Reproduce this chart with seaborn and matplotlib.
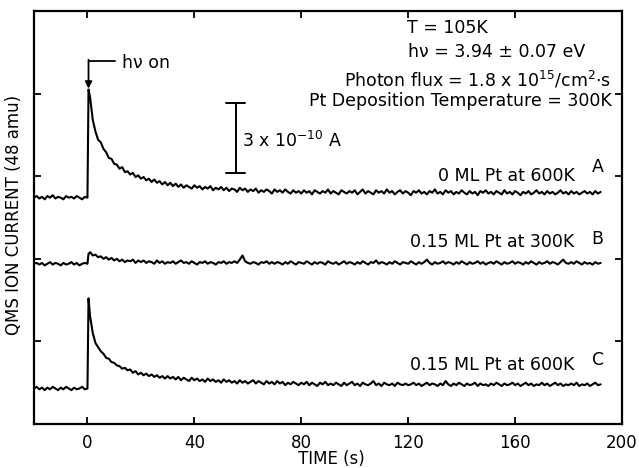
import matplotlib
matplotlib.use("Agg")
import matplotlib.pyplot as plt
import seaborn as sns
import pandas as pd

# ---------------- data ----------------
# sample times: before illumination (1 s steps), the jump just after t=0, then 1 s steps
t_pre = list(range(-20, 1))
t_peak = [0.4]
t_tail = list(range(1, 193))
time = t_pre + t_peak + t_tail

# trace A : 0 ML Pt at 600K
A_pre = [2.74, 2.76, 2.73, 2.75, 2.72, 2.76, 2.74, 2.77, 2.73, 2.75,
         2.74, 2.72, 2.76, 2.74, 2.75, 2.73, 2.76, 2.74, 2.72, 2.75,
         2.74]
A_peak = [4.05]
A_tail = [3.95, 3.68, 3.54, 3.44, 3.41, 3.33, 3.29, 3.22, 3.21, 3.15,
          3.14, 3.09, 3.11, 3.05, 3.06, 3.02, 3.04, 2.99, 3.01, 2.97,
          2.99, 2.95, 2.97, 2.93, 2.96, 2.92, 2.94, 2.90, 2.93, 2.89,
          2.92, 2.88, 2.91, 2.87, 2.90, 2.86, 2.89, 2.87, 2.85, 2.89,
          2.86, 2.88, 2.84, 2.87, 2.85, 2.88, 2.83, 2.86, 2.84, 2.87,
          2.83, 2.86, 2.82, 2.85, 2.84, 2.81, 2.86, 2.83, 2.85, 2.81,
          2.84, 2.82, 2.85, 2.80, 2.83, 2.81, 2.84, 2.82, 2.79, 2.84,
          2.81, 2.83, 2.80, 2.84, 2.81, 2.79, 2.83, 2.80, 2.82, 2.79,
          2.83, 2.80, 2.82, 2.78, 2.83, 2.81, 2.79, 2.82, 2.80, 2.84,
          2.79, 2.82, 2.80, 2.78, 2.83, 2.81, 2.79, 2.82, 2.80, 2.83,
          2.78, 2.81, 2.84, 2.79, 2.82, 2.80, 2.78, 2.83, 2.80, 2.82,
          2.79, 2.84, 2.80, 2.82, 2.78, 2.81, 2.83, 2.79, 2.82, 2.80,
          2.77, 2.82, 2.80, 2.83, 2.79, 2.81, 2.78, 2.82, 2.80, 2.84,
          2.79, 2.81, 2.78, 2.83, 2.80, 2.82, 2.78, 2.81, 2.79, 2.83,
          2.80, 2.78, 2.82, 2.79, 2.81, 2.77, 2.82, 2.80, 2.83, 2.79,
          2.81, 2.78, 2.82, 2.80, 2.78, 2.83, 2.79, 2.81, 2.78, 2.82,
          2.80, 2.77, 2.81, 2.79, 2.82, 2.78, 2.80, 2.83, 2.79, 2.81,
          2.78, 2.82, 2.79, 2.81, 2.78, 2.80, 2.83, 2.79, 2.81, 2.78,
          2.82, 2.79, 2.81, 2.78, 2.80, 2.82, 2.79, 2.81, 2.78, 2.82,
          2.79, 2.81]
A_vals = A_pre + A_peak + A_tail

# trace B : 0.15 ML Pt at 300K
B_pre = [1.94, 1.95, 1.93, 1.95, 1.92, 1.94, 1.96, 1.93, 1.95, 1.94,
         1.92, 1.95, 1.93, 1.94, 1.96, 1.93, 1.95, 1.92, 1.94, 1.95,
         1.94]
B_peak = [2.06]
B_tail = [2.08, 2.04, 2.05, 2.02, 2.03, 2.00, 2.02, 1.99, 2.01, 1.98,
          2.00, 1.97, 1.99, 1.96, 1.98, 1.97, 1.99, 1.95, 1.98, 1.96,
          1.98, 1.95, 1.97, 1.96, 1.94, 1.98, 1.95, 1.97, 1.94, 1.96,
          1.95, 1.97, 1.94, 1.96, 1.98, 1.95, 1.96, 1.94, 1.97, 1.95,
          1.93, 1.96, 1.95, 1.97, 1.94, 1.96, 1.95, 1.93, 1.96, 1.95,
          1.97, 1.94, 1.96, 1.95, 1.97, 1.95, 1.99, 2.04, 1.97, 1.95,
          1.94, 1.96, 1.95, 1.93, 1.96, 1.95, 1.97, 1.94, 1.96, 1.94,
          1.96, 1.95, 1.93, 1.96, 1.94, 1.97, 1.95, 1.93, 1.96, 1.95,
          1.94, 1.97, 1.95, 1.93, 1.96, 1.94, 1.96, 1.95, 1.93, 1.97,
          1.95, 1.94, 1.96, 1.93, 1.95, 1.97, 1.94, 1.96, 1.95, 1.93,
          1.96, 1.94, 1.97, 1.95, 1.93, 1.96, 1.95, 1.98, 1.94, 1.96,
          1.95, 1.93, 1.96, 1.94, 1.97, 1.95, 1.93, 1.96, 1.95, 1.94,
          1.97, 1.95, 1.93, 1.96, 1.94, 1.96, 1.99, 1.95, 1.93, 1.96,
          1.94, 1.95, 1.97, 1.94, 1.96, 1.95, 1.93, 1.96, 1.94, 1.97,
          1.95, 1.93, 1.96, 1.94, 1.95, 1.97, 1.94, 1.96, 1.93, 1.95,
          1.96, 1.94, 1.97, 1.95, 1.93, 1.96, 1.94, 1.95, 1.97, 1.94,
          1.96, 1.95, 1.93, 1.96, 1.94, 1.97, 1.95, 1.93, 1.96, 1.94,
          1.95, 1.97, 1.94, 1.96, 1.95, 1.93, 1.96, 1.99, 1.95, 1.94,
          1.96, 1.94, 1.97, 1.95, 1.93, 1.96, 1.94, 1.95, 1.93, 1.96,
          1.94, 1.95]
B_vals = B_pre + B_peak + B_tail

# trace C : 0.15 ML Pt at 600K
C_pre = [0.43, 0.45, 0.42, 0.44, 0.41, 0.44, 0.42, 0.45, 0.43, 0.41,
         0.44, 0.42, 0.45, 0.43, 0.41, 0.44, 0.42, 0.43, 0.45, 0.42,
         0.43]
C_peak = [1.52]
C_tail = [1.30, 1.10, 0.98, 0.93, 0.88, 0.85, 0.80, 0.79, 0.75, 0.74,
          0.71, 0.70, 0.67, 0.68, 0.65, 0.66, 0.62, 0.64, 0.60, 0.62,
          0.59, 0.61, 0.58, 0.60, 0.57, 0.59, 0.56, 0.58, 0.55, 0.58,
          0.55, 0.57, 0.54, 0.57, 0.53, 0.56, 0.54, 0.52, 0.56, 0.53,
          0.55, 0.52, 0.54, 0.51, 0.55, 0.52, 0.54, 0.51, 0.53, 0.50,
          0.54, 0.51, 0.53, 0.50, 0.52, 0.49, 0.53, 0.50, 0.52, 0.49,
          0.51, 0.53, 0.49, 0.52, 0.50, 0.48, 0.52, 0.49, 0.51, 0.48,
          0.52, 0.49, 0.51, 0.47, 0.50, 0.48, 0.51, 0.49, 0.47, 0.50,
          0.48, 0.51, 0.47, 0.50, 0.48, 0.46, 0.50, 0.48, 0.51, 0.47,
          0.49, 0.47, 0.50, 0.48, 0.46, 0.50, 0.47, 0.49, 0.51, 0.47,
          0.49, 0.46, 0.50, 0.48, 0.47, 0.49, 0.52, 0.47, 0.49, 0.46,
          0.50, 0.48, 0.47, 0.49, 0.46, 0.50, 0.48, 0.47, 0.49, 0.47,
          0.48, 0.50, 0.47, 0.49, 0.46, 0.48, 0.50, 0.47, 0.49, 0.48,
          0.46, 0.49, 0.47, 0.52, 0.48, 0.46, 0.49, 0.47, 0.50, 0.48,
          0.46, 0.49, 0.47, 0.48, 0.50, 0.46, 0.49, 0.47, 0.48, 0.46,
          0.49, 0.47, 0.50, 0.48, 0.46, 0.49, 0.47, 0.48, 0.50, 0.47,
          0.49, 0.46, 0.48, 0.50, 0.47, 0.49, 0.46, 0.48, 0.47, 0.50,
          0.47, 0.49, 0.46, 0.48, 0.50, 0.47, 0.49, 0.46, 0.48, 0.47,
          0.49, 0.47, 0.50, 0.46, 0.48, 0.47, 0.49, 0.46, 0.48, 0.50,
          0.47, 0.48]
C_vals = C_pre + C_peak + C_tail

trace_ids = ["A", "B", "C"]
trace_labels = ["0 ML Pt at 600K", "0.15 ML Pt at 300K", "0.15 ML Pt at 600K"]
x_ticks = [0, 40, 80, 120, 160, 200]
y_ticks = [1, 2, 3, 4]

info_lines = ["T = 105K",
              "h\u03bd = 3.94 \u00b1 0.07 eV",
              "Photon flux = 1.8 x 10$^{15}$/cm$^{2}$$\\cdot$s",
              "Pt Deposition Temperature = 300K"]
scale_label = "3 x 10$^{-10}$ A"

# ---------------- figure ----------------
sns.set_theme(style="ticks")
plt.rcParams["font.family"] = ["DejaVu Sans"]
plt.rcParams["mathtext.fontset"] = "dejavusans"
plt.rcParams["text.color"] = "black"
plt.rcParams["axes.labelcolor"] = "black"
plt.rcParams["xtick.color"] = "black"
plt.rcParams["ytick.color"] = "black"

fig = plt.figure(figsize=(6.39, 4.68), dpi=100)
ax = fig.add_axes([34 / 639, 1 - 424 / 468, 588 / 639, 413 / 468])

frames = []
for tid, vals in zip(trace_ids, [A_vals, B_vals, C_vals]):
    assert len(vals) == len(time), (tid, len(vals), len(time))
    frames.append(pd.DataFrame({"time": time, "signal": vals, "trace": tid}))
df = pd.concat(frames, ignore_index=True)

sns.lineplot(data=df, x="time", y="signal", units="trace", estimator=None,
             sort=False, color="black", linewidth=1.5, ax=ax, legend=False)

fs = 12.5
ax.set_xlim(-20, 200)
ax.set_ylim(0, 5)
ax.set_xticks(x_ticks)
ax.set_xticklabels([str(v) for v in x_ticks], fontsize=12)
ax.set_yticks(y_ticks)
ax.set_yticklabels([])
ax.tick_params(direction="in", length=5, width=1.3, top=True, right=True,
               colors="black", pad=7)
for s in ax.spines.values():
    s.set_linewidth(1.6)
    s.set_color("black")

ax.set_xlabel("TIME (s)", fontsize=12, va="center", ha="center")
ax.set_ylabel("QMS ION CURRENT (48 amu)", fontsize=12, va="center", ha="center")
ax.xaxis.set_label_coords((331 - 34) / 588, (424 - 459) / 413)
ax.yaxis.set_label_coords((14 - 34) / 588, (424 - 215) / 413)

# info block
ax.text(119.4, 4.795, info_lines[0], fontsize=fs, ha="left", va="center")
ax.text(119.8, 4.506, info_lines[1], fontsize=fs, ha="left", va="center")
ax.text(196.0, 4.16, info_lines[2], fontsize=fs, ha="right", va="center")
ax.text(196.0, 3.916, info_lines[3], fontsize=fs, ha="right", va="center")

# trace labels
ax.text(182.3, 3.0, trace_labels[0], fontsize=fs, ha="right", va="center")
ax.text(190.9, 3.108, trace_ids[0], fontsize=fs, ha="center", va="center")
ax.text(182.3, 2.205, trace_labels[1], fontsize=fs, ha="right", va="center")
ax.text(190.9, 2.241, trace_ids[1], fontsize=fs, ha="center", va="center")
ax.text(182.3, 0.711, trace_labels[2], fontsize=fs, ha="right", va="center")
ax.text(190.9, 0.771, trace_ids[2], fontsize=fs, ha="center", va="center")

# h-nu on arrow
ax.plot([0.4, 10.4], [4.40, 4.40], color="black", lw=1.3)
ax.annotate("", xy=(0.4, 4.06), xytext=(0.4, 4.41),
            arrowprops=dict(arrowstyle="-|>", color="black", lw=1.3,
                            mutation_scale=10, shrinkA=0, shrinkB=0))
ax.text(13.0, 4.373, "h\u03bd on", fontsize=fs, ha="left", va="center")

# scale bar
ax.plot([55.4, 55.4], [3.04, 3.89], color="black", lw=1.4)
ax.plot([52.0, 58.8], [3.89, 3.89], color="black", lw=1.4)
ax.plot([52.0, 58.8], [3.04, 3.04], color="black", lw=1.4)
ax.text(58.0, 3.43, scale_label, fontsize=fs, ha="left", va="center")

fig.savefig("out.png", dpi=100)
